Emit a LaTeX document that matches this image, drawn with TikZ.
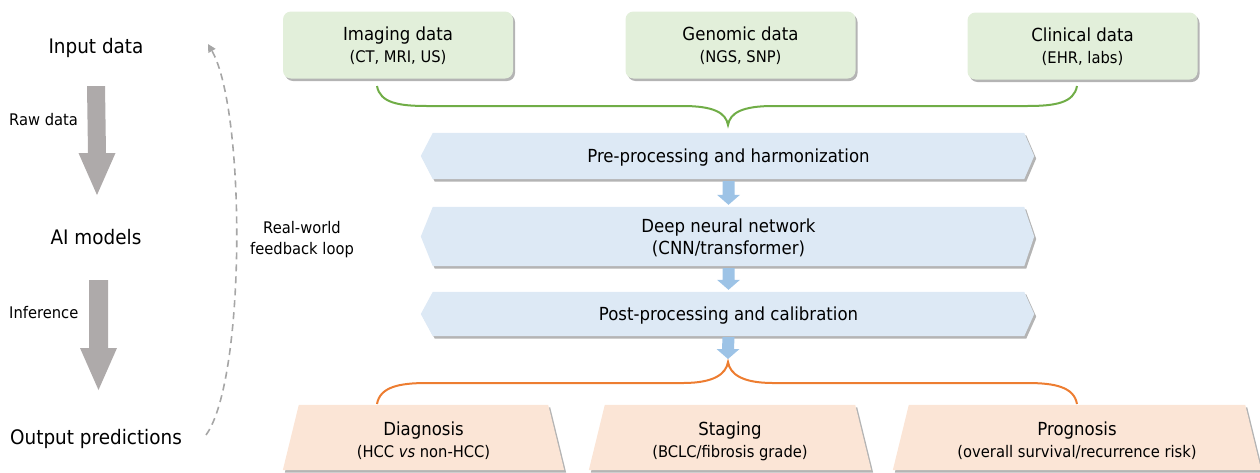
\documentclass[tikz,border=0pt]{standalone}
\usepackage{fontspec}
\setmainfont{DejaVu Sans}[FakeStretch=0.92]
\usetikzlibrary{calc,backgrounds,arrows.meta}
\definecolor{gfill}{HTML}{E2EFDA}
\definecolor{bfill}{HTML}{DDE9F5}
\definecolor{ofill}{HTML}{FBE5D6}
\definecolor{gline}{HTML}{70AD47}
\definecolor{oline}{HTML}{ED7D31}
\definecolor{barrow}{HTML}{9DC3E6}
\definecolor{garrow}{HTML}{AEAAAA}
\definecolor{shad}{HTML}{B4B4B4}
\definecolor{fbgray}{HTML}{A6A6A6}
\newcommand{\blkarrow}[6]{%
  \fill[#6] ($(#1)+(-#3,0)$) -- ($(#1)+(#3,0)$) -- ($(#2)+(#3,-#5)$) -- ($(#2)+(#4,-#5)$)
     -- (#2) -- ($(#2)+(-#4,-#5)$) -- ($(#2)+(-#3,-#5)$) -- cycle;}
\tikzset{
  shadowed/.style={preaction={fill=shad, transform canvas={xshift=2pt,yshift=-2.5pt}}},
  databox/.style={rounded corners=8pt, fill=gfill, shadowed, minimum width=230pt,
     minimum height=67pt, align=center, inner sep=0pt, text depth=0pt, font=\fontsize{18}{22}\selectfont},
  frame/.style={minimum width=#1, minimum height=0pt, inner sep=0pt, align=center,
     text depth=0pt, font=\fontsize{18}{22}\selectfont},
  big/.style={inner sep=0pt, text depth=0pt, font=\fontsize{20}{24}\selectfont},
  small/.style={inner sep=0pt, font=\fontsize{16}{21}\selectfont, align=center},
  outtxt/.style={inner sep=0pt, align=center, font=\fontsize{18}{22}\selectfont},
  gbrace/.style={draw=gline, line width=2pt},
  obrace/.style={draw=oline, line width=2pt},
  fbloop/.style={draw=fbgray, line width=1.6pt, dash pattern=on 7pt off 5pt,
     -{Triangle[length=8pt,width=8pt]}},
}
\newcommand{\sub}[1]{\\{\fontsize{16}{22}\selectfont #1}}
\begin{document}
\begin{tikzpicture}[x=1pt,y=-1pt]
\useasboundingbox (0,0) rectangle (1260,472);

% left column
\node[big] (inp) at (96,46) {Input data};
\node[big] (ai) at (96,237) {AI models};
\node[big] (outp) at (96,437) {Output predictions};
\node[small, anchor=west] (raw) at (9,120) {Raw data};
\node[small, anchor=west] (inf) at (9,313) {Inference};
\node[small] (rw) at (302,240) {Real-world\\feedback loop};
\coordinate (ga1s) at (96,86);   \coordinate (ga1e) at (97,195);
\coordinate (ga2s) at (98.5,280); \coordinate (ga2e) at (98.5,390);
\blkarrow{ga1s}{ga1e}{9}{18.5}{42}{garrow}
\blkarrow{ga2s}{ga2e}{9.5}{18.5}{42}{garrow}
\coordinate (fbs) at (206,435);
\coordinate (fbe) at (208,44);
\draw[fbloop] (fbs) .. controls (246,380) and (246,110) .. (fbe);

% input boxes
\node[databox] (img) at (398,45) {Imaging data\sub{(CT, MRI, US)}};
\node[databox] (gen) at (740.5,45) {Genomic data\sub{(NGS, SNP)}};
\node[databox] (cli) at (1082.5,46) {Clinical data\sub{(EHR, labs)}};

% green brace
\coordinate (gbl) at (377,86);
\coordinate (gbr) at (1077,86);
\coordinate (gbt) at (728,125);
\draw[gbrace] (gbl) .. controls ($(gbl)+(3,17)$) and ($(gbl)+(22,20)$) .. ($(gbl)+(50,20)$)
  -- ($(gbt)+(-45,-19)$) .. controls ($(gbt)+(-14,-19)$) and ($(gbt)+(-2,-12)$) .. (gbt)
  .. controls ($(gbt)+(2,-12)$) and ($(gbt)+(14,-19)$) .. ($(gbt)+(45,-19)$)
  -- ($(gbr)+(-50,20)$) .. controls ($(gbr)+(-22,20)$) and ($(gbr)+(-3,17)$) .. (gbr);

% banners
\node[frame=591pt, minimum height=46pt] (b1) at (728.5,156) {Pre-processing and harmonization};
\node[frame=591pt, minimum height=59pt] (b2) at (728.5,236.5) {Deep neural network\\(CNN/transformer)};
\node[frame=591pt, minimum height=44pt] (b3) at (728.5,314) {Post-processing and calibration};

% outputs
\node[frame=249pt, minimum height=65pt] (diag) at (423.5,437.5) {};
\node[frame=250pt, minimum height=65pt] (stag) at (730,437.5) {};
\node[frame=336pt, minimum height=65pt] (prog) at (1077,437.5) {};
\node[outtxt] (diagt) at ($(diag.center)+(0,3.5)$) {Diagnosis\sub{(HCC \textit{vs} non-HCC)}};
\node[outtxt] (stagt) at ($(stag.center)+(0,3.5)$) {Staging\sub{(BCLC/fibrosis grade)}};
\node[outtxt] (progt) at ($(prog.center)+(0,3.5)$) {Prognosis\sub{(overall survival/recurrence risk)}};

% orange brace
\coordinate (obl) at (377,404);
\coordinate (obr) at (1077,404);
\coordinate (obt) at (728,362);
\draw[obrace] (obl) .. controls ($(obl)+(3,-17)$) and ($(obl)+(22,-21)$) .. ($(obl)+(50,-21)$)
  -- ($(obt)+(-45,21)$) .. controls ($(obt)+(-14,21)$) and ($(obt)+(-2,12)$) .. (obt)
  .. controls ($(obt)+(2,12)$) and ($(obt)+(14,21)$) .. ($(obt)+(45,21)$)
  -- ($(obr)+(-50,-21)$) .. controls ($(obr)+(-22,-21)$) and ($(obr)+(-3,-17)$) .. (obr);

\begin{scope}[on background layer]
  \foreach \b in {b1,b2,b3}{
    \fill[bfill, shadowed] (\b.north west) -- (\b.north east) -- ($(\b.east)+(10,0)$)
      -- (\b.south east) -- (\b.south west) -- ($(\b.west)+(-12,0)$) -- cycle;
  }
  \foreach \t in {diag,stag,prog}{
    \fill[ofill, shadowed] (\t.north west) -- (\t.north east) -- ($(\t.south east)+(16,0)$)
      -- ($(\t.south west)+(-16,0)$) -- cycle;
  }
\end{scope}

% blue arrows between steps
\coordinate (a1s) at ($(b1.south)+(0,2)$); \coordinate (a1e) at ($(b2.north)+(0,-2)$);
\coordinate (a2s) at ($(b2.south)+(0,2)$); \coordinate (a2e) at ($(b3.north)+(0,-2)$);
\coordinate (a3s) at ($(b3.south)+(0,1)$); \coordinate (a3e) at ($(obt)+(0,-3)$);
\blkarrow{a1s}{a1e}{6}{11.5}{10}{barrow}
\blkarrow{a2s}{a2e}{6}{11.5}{10}{barrow}
\blkarrow{a3s}{a3e}{6}{11.5}{10}{barrow}
\end{tikzpicture}
\end{document}
